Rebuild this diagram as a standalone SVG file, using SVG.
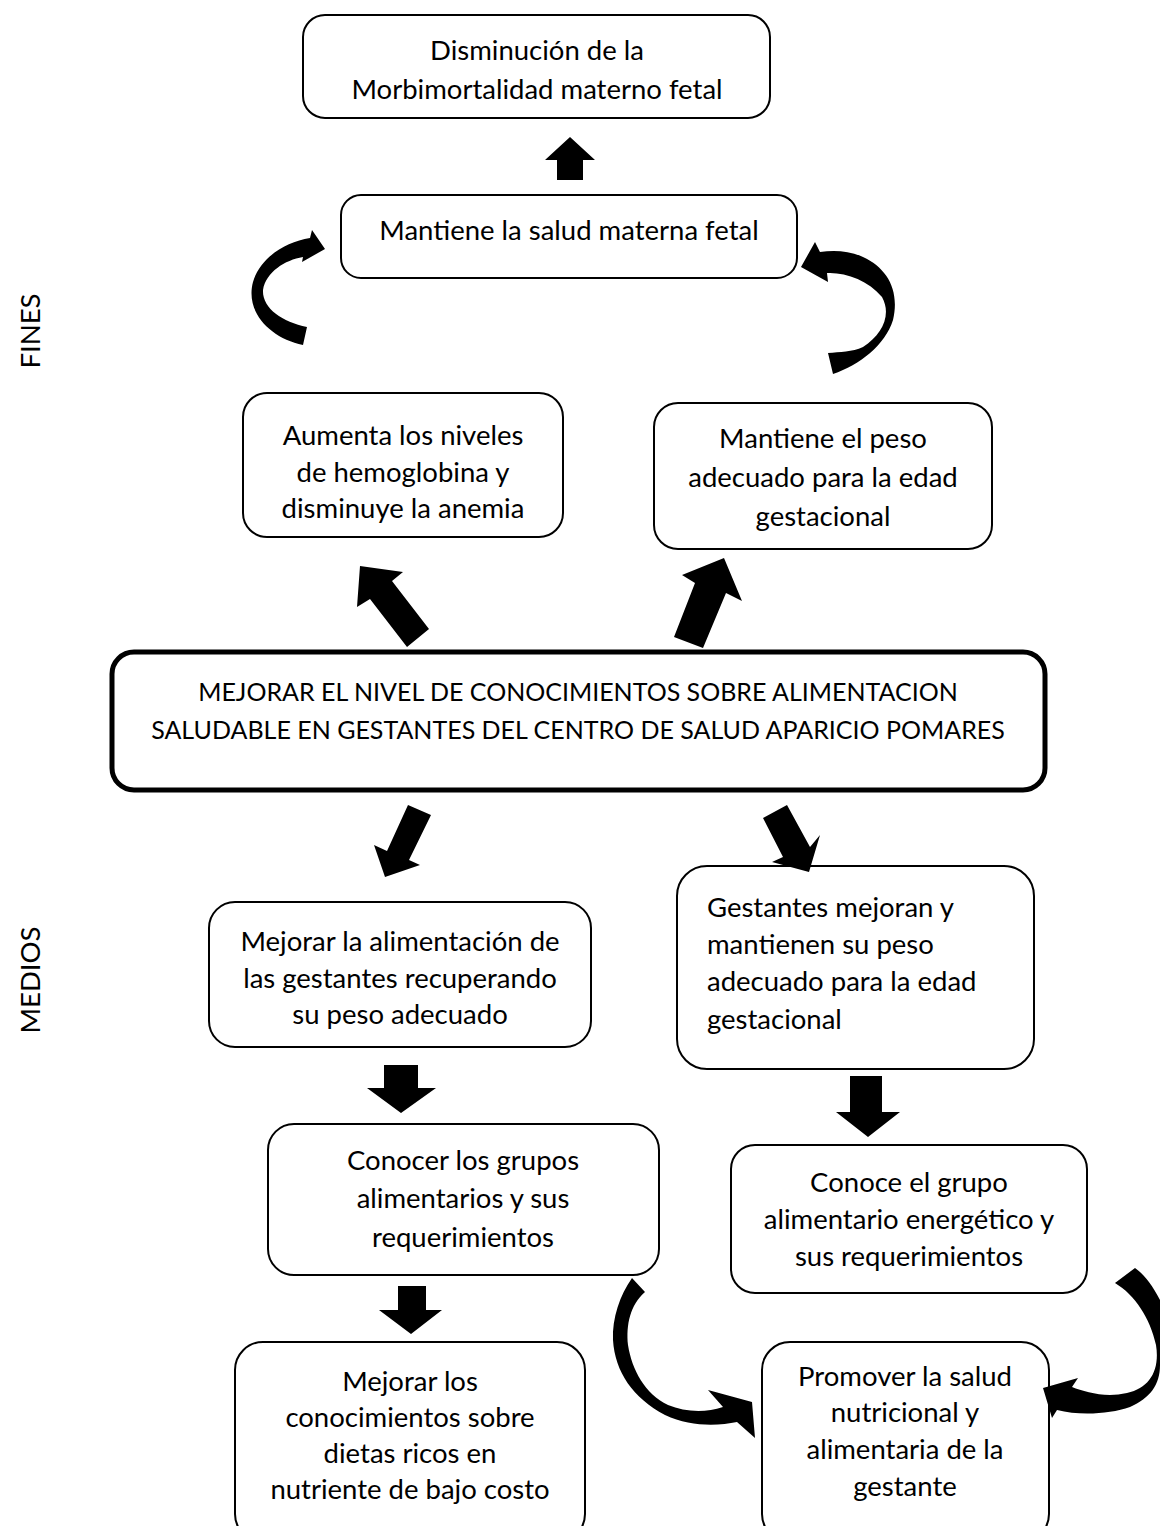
<svg xmlns="http://www.w3.org/2000/svg" width="1160" height="1526" viewBox="0 0 1160 1526">
<style>
.box{fill:#fff;stroke:#000;stroke-width:2}
.main{fill:#fff;stroke:#000;stroke-width:5}
text{font-family:Lato,"Liberation Sans",sans-serif;font-size:27.5px;fill:#000}
.c{text-anchor:middle}
.m{font-size:25px}
.arr{fill:#000;stroke:none}
</style>
<rect width="1160" height="1526" fill="#fff"/>
<text class="c" transform="translate(40,331) rotate(-90)">FINES</text>
<text class="c" transform="translate(40,980) rotate(-90)">MEDIOS</text>

<g id="n1"><rect class="box" x="303" y="15" width="467" height="103" rx="22"/>
<text class="c" x="537" y="60">Disminución de la</text><text class="c" x="537" y="99">Morbimortalidad materno fetal</text></g>
<g id="n2"><rect class="box" x="341" y="195" width="456" height="83" rx="20"/>
<text class="c" x="569" y="240">Mantiene la salud materna fetal</text></g>
<g id="n3"><rect class="box" x="243" y="393" width="320" height="144" rx="24"/>
<text class="c" x="403" y="445">Aumenta los niveles</text><text class="c" x="403" y="482">de hemoglobina y</text><text class="c" x="403" y="518">disminuye la anemia</text></g>
<g id="n4"><rect class="box" x="654" y="403" width="338" height="146" rx="24"/>
<text class="c" x="823" y="448">Mantiene el peso</text><text class="c" x="823" y="487">adecuado para la edad</text><text class="c" x="823" y="526">gestacional</text></g>
<g id="n5"><rect class="main" x="112" y="652" width="933" height="138" rx="22"/>
<text class="c m" x="578" y="701">MEJORAR EL NIVEL DE CONOCIMIENTOS SOBRE ALIMENTACION</text><text class="c m" x="578" y="739">SALUDABLE EN GESTANTES DEL CENTRO DE SALUD APARICIO POMARES</text></g>
<g id="n6"><rect class="box" x="209" y="902" width="382" height="145" rx="26"/>
<text class="c" x="400" y="951">Mejorar la alimentación de</text><text class="c" x="400" y="988">las gestantes recuperando</text><text class="c" x="400" y="1024">su peso adecuado</text></g>
<g id="n7"><rect class="box" x="677" y="866" width="357" height="203" rx="30"/>
<text x="707" y="917">Gestantes mejoran y</text><text x="707" y="954">mantienen su peso</text><text x="707" y="991">adecuado para la edad</text><text x="707" y="1029">gestacional</text></g>
<g id="n8"><rect class="box" x="268" y="1124" width="391" height="151" rx="26"/>
<text class="c" x="463" y="1170">Conocer los grupos</text><text class="c" x="463" y="1208">alimentarios y sus</text><text class="c" x="463" y="1247">requerimientos</text></g>
<g id="n9"><rect class="box" x="731" y="1145" width="356" height="148" rx="24"/>
<text class="c" x="909" y="1192">Conoce el grupo</text><text class="c" x="909" y="1229">alimentario energético y</text><text class="c" x="909" y="1266">sus requerimientos</text></g>
<g id="n10"><rect class="box" x="235" y="1342" width="350" height="200" rx="28"/>
<text class="c" x="410" y="1391">Mejorar los</text><text class="c" x="410" y="1427">conocimientos sobre</text><text class="c" x="410" y="1463">dietas ricos en</text><text class="c" x="410" y="1499">nutriente de bajo costo</text></g>
<g id="n11"><rect class="box" x="762" y="1342" width="287" height="200" rx="28"/>
<text class="c" x="905" y="1386">Promover la salud</text><text class="c" x="905" y="1422">nutricional y</text><text class="c" x="905" y="1459">alimentaria de la</text><text class="c" x="905" y="1496">gestante</text></g>

<g id="connectors">
<polygon class="arr" points="570,137 595,160 583,160 583,180 557,180 557,160 545,160"/>
<polygon class="arr" points="360,566 403,572 392,581 429,629 407,647 370,599 357,607"/>
<polygon class="arr" points="724,558 742,601 726,593 703,648 674,637 695,583 682,575"/>
<polygon class="arr" points="385,877 374,845 387,851 408,805 431,815 409,860 420,865"/>
<polygon class="arr" points="809,872 772,862 783,857 763,818 787,805 810,847 820,835"/>
<polygon class="arr" points="401,1113 367,1088 384,1088 384,1065 418,1065 418,1088 436,1088"/>
<polygon class="arr" points="411,1334 379,1310 398,1310 398,1286 426,1286 426,1310 442,1310"/>
<polygon class="arr" points="868,1137 836,1112 850,1112 850,1076 882,1076 882,1112 900,1112"/>
<path class="arr" d="M303,345 C270,338 245,312 253,282 C260,258 285,242 310,238 L312,230 L325,249 L302,262 L303,257 C285,260 266,272 263,290 C262,308 282,322 307,327 Z"/>
<path class="arr" d="M833,374 C860,365 885,345 893,320 C900,290 887,268 863,257 C850,251 835,250 820,252 L815,242 L801,267 L828,282 L827,273 C845,272 868,280 882,297 C892,315 882,335 863,347 C852,352 840,352 828,353 Z"/>
<path class="arr" d="M632,1278 C620,1295 612,1318 613,1340 C615,1372 633,1398 665,1415 C690,1427 718,1426 737,1422 L755,1438 L752,1402 L708,1390 L723,1407 C705,1413 685,1412 668,1405 C645,1394 632,1370 628,1345 C626,1325 630,1305 645,1292 Z"/>
<path class="arr" d="M1115,1283 C1135,1295 1150,1318 1156,1345 C1160,1370 1150,1388 1127,1393 C1105,1398 1085,1392 1072,1387 L1078,1378 L1043,1388 L1052,1418 L1057,1410 C1080,1416 1110,1414 1130,1407 C1150,1398 1160,1385 1160,1365 L1160,1300 C1152,1285 1145,1275 1135,1268 Z"/>
</g>
</svg>
